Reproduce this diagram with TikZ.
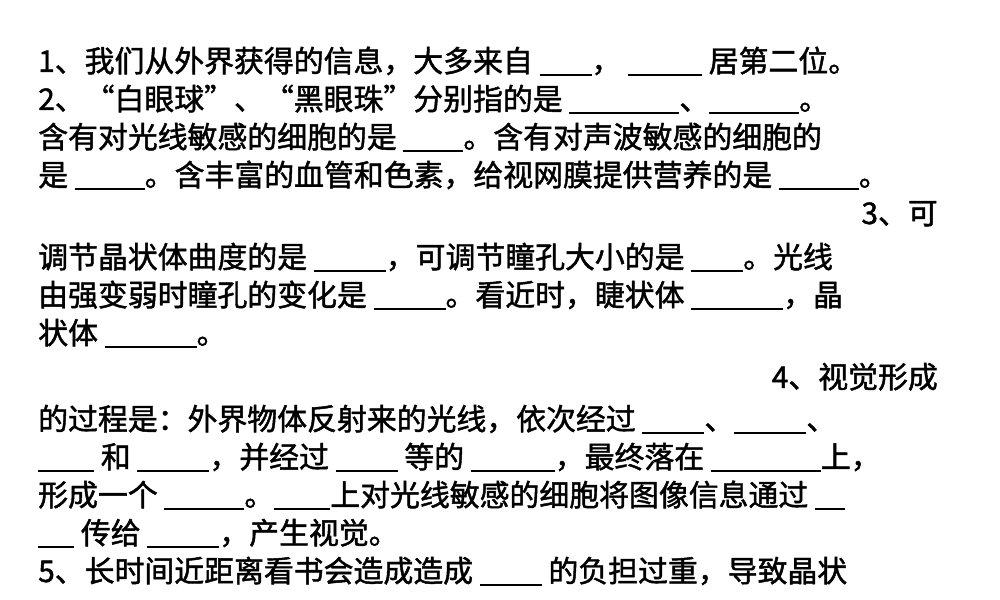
\documentclass[tikz,border=0pt]{standalone}
\usepackage{fontspec}
\newfontfamily\cjk{Noto Sans CJK SC}[BoldFont={Noto Sans CJK SC},BoldFeatures={FakeBold=1.5}]
\newlength\pxu
\setlength\pxu{0.3mm}
\newcommand{\blank}[1]{\rule[-3pt]{#1\pxu}{1.6pt}}
\tikzset{line/.style={anchor=base west, inner sep=0pt, font=\cjk\bfseries\fontsize{25.5}{30}\selectfont},
  rline/.style={line, anchor=base east}}
\begin{document}
\begin{tikzpicture}[x=0.03cm, y=-0.03cm]
  \useasboundingbox (0,0) rectangle (1000,600);
  % lines of the exercise
  \node[line] (l1) at (38,72) {1、我们从外界获得的信息，大多来自 \blank{52}， \blank{74} 居第二位。};
  \node[line] (l2) at (38,110) {2、“白眼球”、“黑眼珠”分别指的是 \blank{110}、\blank{90}。};
  \node[line] (l3) at (38,148) {含有对光线敏感的细胞的是 \blank{60}。含有对声波敏感的细胞的};
  \node[line] (l4) at (38,186) {是 \blank{70}。含丰富的血管和色素，给视网膜提供营养的是 \blank{80}。};
  \node[rline] (l5) at (938,224) {3、可};
  \node[line] (l6) at (38,268) {调节晶状体曲度的是 \blank{72}，可调节瞳孔大小的是 \blank{52}。光线};
  \node[line] (l7) at (38,306) {由强变弱时瞳孔的变化是 \blank{72}。看近时，睫状体 \blank{92}，晶};
  \node[line] (l8) at (38,344) {状体 \blank{92}。};
  \node[rline] (l9) at (938,388) {4、视觉形成};
  \node[line] (l10) at (38,430) {的过程是：外界物体反射来的光线，依次经过 \blank{62}、\blank{72}、};
  \node[line] (l11) at (38,468) {\blank{56} 和 \blank{72}，并经过 \blank{62} 等的 \blank{84}，最终落在 \blank{110}上，};
  \node[line] (l12) at (38,506) {形成一个 \blank{80}。\blank{56}上对光线敏感的细胞将图像信息通过 \blank{30}};
  \node[line] (l13) at (38,544) {\blank{36} 传给 \blank{72}，产生视觉。};
  \node[line] (l14) at (38,582) {5、长时间近距离看书会造成造成 \blank{62} 的负担过重，导致晶状};
\end{tikzpicture}
\end{document}
